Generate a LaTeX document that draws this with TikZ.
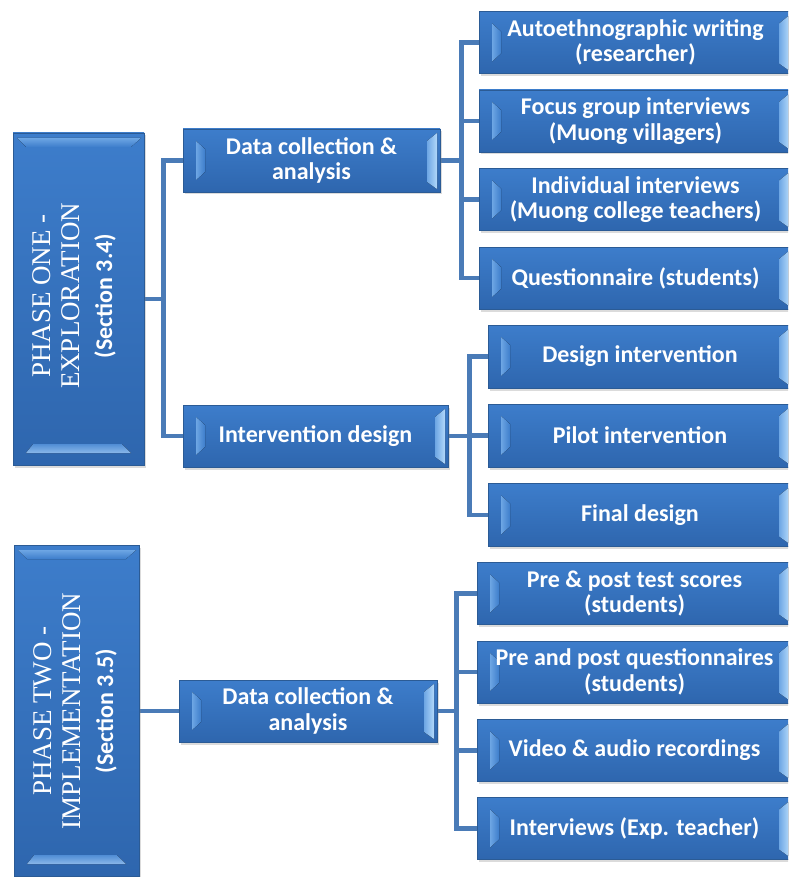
\documentclass[tikz,border=0pt]{standalone}
\usepackage{fontspec}
\setmainfont{Carlito}
\newfontfamily\timesf{Liberation Serif}
\usetikzlibrary{calc,shadows,backgrounds}

\definecolor{faceTop}{HTML}{3D7DCB}
\definecolor{faceBot}{HTML}{2E66AE}
\definecolor{edgeC}{HTML}{2B5B95}
\definecolor{linkC}{HTML}{4A7BB7}
\definecolor{facetHi}{HTML}{B2D8FA}
\definecolor{facetLo}{HTML}{6DA6E4}

\tikzset{
  boxbase/.style={draw=edgeC, line width=0.8pt, top color=faceTop, bottom color=faceBot,
    inner sep=0pt, text=white, font=\bfseries\fontsize{24}{25.5}\selectfont, align=center,
    drop shadow={shadow xshift=1.5pt, shadow yshift=-2.5pt, opacity=0.28}},
  % horizontal box: light facets on the left and right sides
  bevelbox/.style={boxbase, path picture={
    \path (path picture bounding box.north west) coordinate (bbnw)
          (path picture bounding box.south east) coordinate (bbse);
    \fill[left color=facetLo, right color=faceTop]
      ($(bbnw)+(13,12)$) -- ($(bbnw)+(22,20)$) -- ($(bbnw|-bbse)+(22,-20)$)
      -- ($(bbnw|-bbse)+(13,-12)$) -- cycle;
    \fill[left color=facetLo, right color=facetHi]
      ($(bbse|-bbnw)+(-3,4)$) -- ($(bbse|-bbnw)+(-13,12)$) -- ($(bbse)+(-13,-10)$)
      -- ($(bbse)+(-3,-3)$) -- cycle;
  }},
  % vertical box: light facets at the top and bottom
  phasebox/.style={boxbase, path picture={
    \path (path picture bounding box.north west) coordinate (bbnw)
          (path picture bounding box.south east) coordinate (bbse);
    \fill[top color=facetLo, bottom color=faceTop]
      ($(bbnw)+(4,5)$) -- ($(bbse|-bbnw)+(-3,5)$) -- ($(bbse|-bbnw)+(-13,14)$)
      -- ($(bbnw)+(13,14)$) -- cycle;
    \fill[top color=faceTop!60!facetLo, bottom color=facetLo!80!white]
      ($(bbnw|-bbse)+(20,-21)$) -- ($(bbse)+(-22,-21)$) -- ($(bbse)+(-13,-12)$)
      -- ($(bbnw|-bbse)+(13,-12)$) -- cycle;
  }},
  phasetext/.style={text=white, align=center, inner sep=0pt,
    font=\timesf\fontsize{27}{29}\selectfont},
  l1/.style={bevelbox, minimum width=313, minimum height=62},
  l2/.style={bevelbox, minimum width=304, minimum height=63},
  l3/.style={bevelbox, minimum width=315, minimum height=62},
  link/.style={draw=linkC, line width=4.5pt},
}

\begin{document}
\begin{tikzpicture}[x=1pt,y=-1pt]
\useasboundingbox (0,0) rectangle (788,877);
\clip (0,0) rectangle (788,877);

% phase boxes
\node[phasebox, minimum width=131, minimum height=332] (phase1) at (78.5,299) {};
\node[phasetext, rotate=90] (phase1text) at (74,296)
  {PHASE ONE -\\EXPLORATION\\[4pt]{\rmfamily\bfseries\fontsize{24}{29}\selectfont (Section 3.4)}};
\node[phasebox, minimum width=125, minimum height=331] (phase2) at (76.5,710.5) {};
\node[phasetext, rotate=90] (phase2text) at (75,711)
  {PHASE TWO -\\IMPLEMENTATION\\[4pt]{\rmfamily\bfseries\fontsize{24}{29}\selectfont (Section 3.5)}};

% second level
\node[bevelbox, minimum width=257, minimum height=63] (dc1) at (311.5,160.5) {Data collection \&\\analysis};
\node[bevelbox, minimum width=265, minimum height=62] (idz) at (315.5,436) {Intervention design};
\node[bevelbox, minimum width=258, minimum height=62] (dc2) at (308,711) {Data collection \&\\analysis};

% third level, phase one
\node[l1] (a1) at (635.5,42.5) {Autoethnographic writing\\(researcher)};
\node[l1] (a2) at (635.5,121) {Focus group interviews\\(Muong villagers)};
\node[l1] (a3) at (635.5,199.5) {Individual interviews\\(Muong college teachers)};
\node[l1] (a4) at (635.5,278) {Questionnaire (students)};
\node[l2] (b1) at (640,356.5) {Design intervention};
\node[l2] (b2) at (640,435.5) {Pilot intervention};
\node[l2] (b3) at (640,515) {Final design};

% third level, phase two
\node[l3] (c1) at (634.5,593.5) {Pre \& post test scores\\(students)};
\node[l3] (c2) at (634.5,672) {Pre and post questionnaires\\(students)};
\node[l3] (c3) at (634.5,750.5) {Video \& audio recordings};
\node[l3] (c4) at (634.5,828.5) {Interviews (Exp. teacher)};

% connectors behind the boxes
\begin{pgfonlayer}{background}
  \fill[white] (0,0) rectangle (788,877);
  \draw[link] (phase1.east) -- ++(19,0) |- (dc1.west);
  \draw[link] (phase1.east) -- ++(19,0) |- (idz.west);
  \draw[link] (phase2.east |- dc2.west) -- (dc2.west);
  \foreach \c in {a1,a2,a3,a4} \draw[link] (dc1.east) -- ++(21,0) |- (\c.west);
  \foreach \c in {b1,b2,b3} \draw[link] (idz.east) -- ++(21,0) |- (\c.west);
  \foreach \c in {c1,c2,c3,c4} \draw[link] (dc2.east) -- ++(19,0) |- (\c.west);
\end{pgfonlayer}
\end{tikzpicture}
\end{document}
